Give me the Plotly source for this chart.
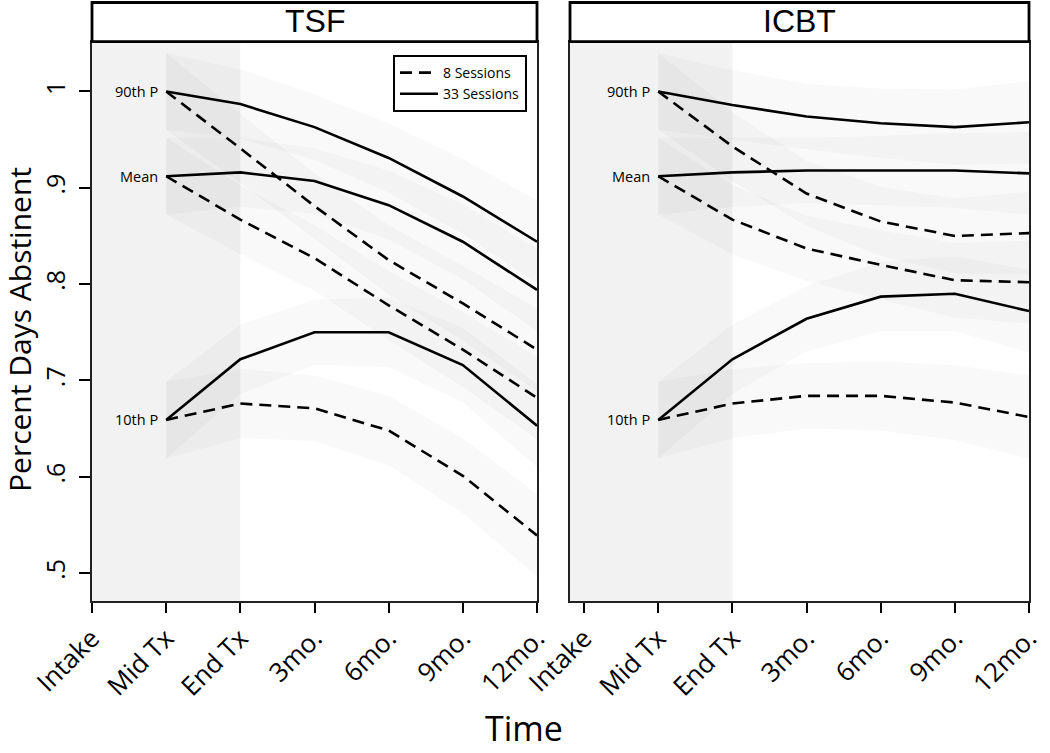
import plotly.graph_objects as go

# ---------------- data ----------------
time_labels = ["Intake", "Mid Tx", "End Tx", "3mo.", "6mo.", "9mo.", "12mo."]
y_ticks = [0.5, 0.6, 0.7, 0.8, 0.9, 1.0]
y_tick_labels = [".5", ".6", ".7", ".8", ".9", "1"]
panels = ["TSF", "ICBT"]
legend_names = ["8 Sessions", "33 Sessions"]
point_labels = ["90th P", "Mean", "10th P"]

# values from Mid Tx to 12mo.
tsf_p90_8 = [1.000, 0.941, 0.881, 0.825, 0.780, 0.732]
tsf_p90_33 = [1.000, 0.987, 0.963, 0.931, 0.891, 0.844]
tsf_mean_8 = [0.912, 0.867, 0.827, 0.778, 0.732, 0.682]
tsf_mean_33 = [0.912, 0.916, 0.907, 0.882, 0.844, 0.794]
tsf_p10_8 = [0.659, 0.676, 0.671, 0.648, 0.601, 0.539]
tsf_p10_33 = [0.659, 0.722, 0.750, 0.750, 0.716, 0.653]

icbt_p90_8 = [1.000, 0.943, 0.894, 0.865, 0.850, 0.853]
icbt_p90_33 = [1.000, 0.986, 0.974, 0.967, 0.963, 0.968]
icbt_mean_8 = [0.912, 0.867, 0.837, 0.820, 0.804, 0.802]
icbt_mean_33 = [0.912, 0.916, 0.918, 0.918, 0.918, 0.915]
icbt_p10_8 = [0.659, 0.676, 0.684, 0.684, 0.677, 0.662]
icbt_p10_33 = [0.659, 0.722, 0.764, 0.787, 0.790, 0.772]

ci_half = [0.040, 0.036, 0.034, 0.036, 0.039, 0.043]

# ---------------- figure ----------------
W, H = 1050, 753
FONT = "Open Sans"

def px_x(p):
    return p / W

def px_y(p):
    return 1 - p / H

x_pos = list(range(len(time_labels)))
x_data = x_pos[1:]

panel_series = {
    "TSF": [(tsf_p90_8, tsf_p90_33), (tsf_mean_8, tsf_mean_33), (tsf_p10_8, tsf_p10_33)],
    "ICBT": [(icbt_p90_8, icbt_p90_33), (icbt_mean_8, icbt_mean_33), (icbt_p10_8, icbt_p10_33)],
}

fig = go.Figure()

dash_style = "12px,7px"
shown = {0: False, 1: False}

for pi, panel in enumerate(panels):
    xa = "x" if pi == 0 else "x2"
    ya = "y" if pi == 0 else "y2"
    # confidence bands
    for pair in panel_series[panel]:
        for s in pair:
            up = [v + h for v, h in zip(s, ci_half)]
            lo = [v - h for v, h in zip(s, ci_half)]
            fig.add_trace(go.Scatter(
                x=x_data + x_data[::-1], y=up + lo[::-1],
                fill="toself", fillcolor="rgba(0,0,0,0.024)",
                line=dict(width=0), mode="lines", hoverinfo="skip",
                showlegend=False, xaxis=xa, yaxis=ya))
    for pair in panel_series[panel]:
        for k, s in enumerate(pair):
            fig.add_trace(go.Scatter(
                x=x_data, y=s, mode="lines",
                line=dict(color="black", width=2.6,
                          dash=dash_style if k == 0 else "solid"),
                name=legend_names[k],
                showlegend=(pi == 0 and not shown[k]),
                xaxis=xa, yaxis=ya))
            if pi == 0:
                shown[k] = True
    # point labels
    for lbl, pair in zip(point_labels, panel_series[panel]):
        fig.add_annotation(x=x_data[0], y=pair[0][0], xref=xa, yref=ya,
                           text=lbl, showarrow=False, xanchor="right",
                           yanchor="middle", xshift=-6,
                           font=dict(family=FONT, size=14.5, color="black"))

y_range = [0.471, 1.0517]
y_dom = [px_y(601), px_y(41.7)]

axis_common = dict(showline=True, mirror=True, linecolor="#222", linewidth=1.6,
                   showgrid=False, zeroline=False, automargin=False)

fig.update_layout(
    width=W, height=H,
    margin=dict(l=0, r=0, t=0, b=0, autoexpand=False),
    paper_bgcolor="white", plot_bgcolor="white",
    xaxis=dict(domain=[px_x(92), px_x(537)], range=[0, 6],
               tickvals=x_pos, ticktext=time_labels, tickangle=-45,
               ticks="outside", ticklen=10, tickwidth=1.6, tickcolor="black",
               tickfont=dict(family=FONT, size=26, color="black"),
               **axis_common),
    yaxis=dict(domain=y_dom, range=y_range, tickvals=y_ticks,
               ticktext=y_tick_labels, tickangle=-90,
               ticks="outside", ticklen=11, tickwidth=1.6, tickcolor="black",
               tickfont=dict(family=FONT, size=25, color="black"),
               ticklabelstandoff=4,
               **axis_common),
    xaxis2=dict(domain=[px_x(570), px_x(1029)], range=[-0.19, 6],
                anchor="y2",
                tickvals=x_pos, ticktext=time_labels, tickangle=-45,
                ticks="outside", ticklen=10, tickwidth=1.6, tickcolor="black",
                tickfont=dict(family=FONT, size=26, color="black"),
                **axis_common),
    yaxis2=dict(domain=y_dom, range=y_range, anchor="x2",
                showticklabels=False, ticks="", **axis_common),
    legend=dict(x=px_x(527), y=px_y(55), xanchor="right", yanchor="top",
                bordercolor="black", borderwidth=2, bgcolor="white",
                font=dict(family=FONT, size=14, color="black"),
                tracegroupgap=0, itemwidth=38),
    showlegend=True,
)

# shaded treatment period
for xa, x0 in (("x", 0), ("x2", -0.19)):
    fig.add_shape(type="rect", xref=xa, yref="y domain" if xa == "x" else "y2 domain",
                  x0=x0, x1=2, y0=0, y1=1, fillcolor="#f2f2f2",
                  line=dict(width=0), layer="below")

# panel headers
for panel, (l, r) in zip(panels, [(92, 537), (570, 1029)]):
    fig.add_shape(type="rect", xref="paper", yref="paper",
                  x0=px_x(l), x1=px_x(r), y0=px_y(41.7), y1=px_y(2.5),
                  line=dict(color="black", width=2.8), fillcolor="white")
    fig.add_annotation(xref="paper", yref="paper", x=px_x((l + r) / 2),
                       y=px_y(21), text=panel, showarrow=False,
                       xanchor="center", yanchor="middle",
                       font=dict(family="Liberation Sans", size=32, color="black"))

# axis titles
fig.add_annotation(xref="paper", yref="paper", x=px_x(19), y=px_y(330),
                   text="Percent Days Abstinent", textangle=-90, showarrow=False,
                   xanchor="center", yanchor="middle",
                   font=dict(family=FONT, size=30, color="black"))
fig.add_annotation(xref="paper", yref="paper", x=px_x(524), y=0,
                   text="Time", showarrow=False, xanchor="center", yanchor="bottom",
                   font=dict(family=FONT, size=34, color="black"))

fig.write_html("out.html",
               config={"displayModeBar": False},
               post_script="document.body.style.margin='0px';document.body.style.overflow='hidden';")
